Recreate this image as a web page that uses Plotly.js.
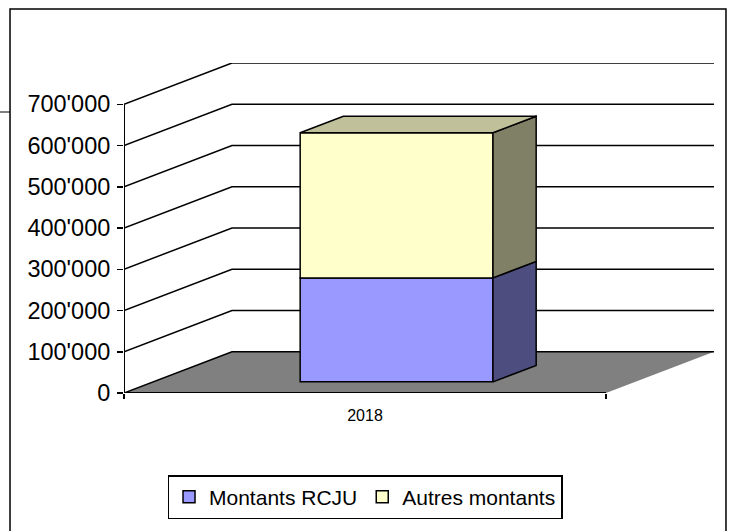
<!DOCTYPE html>
<html>
<head>
<meta charset="utf-8">
<script src="https://cdn.plot.ly/plotly-3.0.1.min.js"></script>
<style>
  body { margin: 0; background: #fff; }
  #plot { width: 729px; height: 531px; }
</style>
</head>
<body>
<div id="plot"></div>
<script>
var years = ['2018'];
var montantsRcju = [252000];
var autresMontants = [352000];
var seriesNames = ['Montants RCJU', 'Autres montants'];
var yTicks = [0, 100000, 200000, 300000, 400000, 500000, 600000, 700000];

// fake 3D look: depth offset of the back wall, in axis units
var DX = 0.224, DY = 100000;
var T0 = 0.27, T1 = 0.67, BW = 0.4;

var catX = 0.5;
var frontX = catX + T0 * DX + 0.005;
var lift = T0 * DY;
var dx = (T1 - T0) * DX, dy = (T1 - T0) * DY;
var xl = frontX - BW / 2, xr = frontX + BW / 2;

var colors = {
  rcju: {front: '#9999FF', side: '#4D4D80'},
  autres: {front: '#FFFFCC', side: '#808066', top: '#C0C09A'}
};
var edge = {color: '#000', width: 1.5};

function poly(xs, ys, fill) {
  return {
    x: xs, y: ys, type: 'scatter', mode: 'lines', fill: 'toself',
    fillcolor: fill, line: edge, showlegend: false, hoverinfo: 'skip'
  };
}

var base2 = montantsRcju[0];
var total = montantsRcju[0] + autresMontants[0];

var rcjuFront = {
  x: [frontX], y: montantsRcju, base: [lift], width: [BW], name: seriesNames[0],
  type: 'bar', marker: {color: colors.rcju.front, line: edge}, hoverinfo: 'skip'
};
var autresFront = {
  x: [frontX], y: autresMontants, base: [lift + base2], width: [BW], name: seriesNames[1],
  type: 'bar', marker: {color: colors.autres.front, line: edge}, hoverinfo: 'skip'
};

var rcjuSide = poly([xr, xr + dx, xr + dx, xr, xr],
  [lift, lift + dy, lift + base2 + dy, lift + base2, lift], colors.rcju.side);
var autresSide = poly([xr, xr + dx, xr + dx, xr, xr],
  [lift + base2, lift + base2 + dy, lift + total + dy, lift + total, lift + base2], colors.autres.side);
var autresTop = poly([xl, xr, xr + dx, xl + dx, xl],
  [lift + total, lift + total, lift + total + dy, lift + total + dy, lift + total], colors.autres.top);

var data = [rcjuFront, autresFront, rcjuSide, autresSide, autresTop];

// floor, walls and grid as shapes under the bars
var shapes = [{
  type: 'path', xref: 'x', yref: 'y', layer: 'below',
  path: 'M0,0 L1,0 L' + (1 + DX) + ',' + DY + ' L' + DX + ',' + DY + ' Z',
  fillcolor: '#808080', line: {width: 0}
}];
yTicks.forEach(function (v) {
  shapes.push({
    type: 'path', xref: 'x', yref: 'y', layer: 'below',
    path: 'M0,' + v + ' L' + DX + ',' + (v + DY) + ' L' + (1 + DX) + ',' + (v + DY),
    line: {color: '#000', width: 1.5}
  });
});
shapes.push({type: 'line', xref: 'x', yref: 'y', layer: 'below', x0: 0, x1: 1, y0: 0, y1: 0,
  line: {color: '#000', width: 2}});
shapes.push({type: 'line', xref: 'x', yref: 'y', layer: 'below', x0: 0, x1: 0, y0: 0,
  y1: yTicks[yTicks.length - 1], line: {color: '#000', width: 2}});
// outer chart frame
shapes.push({type: 'rect', xref: 'paper', yref: 'paper', x0: -0.1932, x1: 1.0203, y0: -0.5, y1: 1.1636,
  line: {color: '#000', width: 1.5}});
shapes.push({type: 'line', xref: 'paper', yref: 'paper', x0: -0.215, x1: -0.1932, y0: 0.8515, y1: 0.8515,
  line: {color: '#000', width: 1}});

var layout = {
  width: 729, height: 531,
  margin: {l: 124, r: 15, t: 63, b: 138},
  paper_bgcolor: '#fff', plot_bgcolor: '#fff',
  font: {family: 'Liberation Sans, Arial, sans-serif', color: '#000'},
  separators: ".'",
  barmode: 'overlay',
  showlegend: true,
  hovermode: false,
  xaxis: {
    range: [0, 1 + DX], fixedrange: true,
    tickmode: 'array', tickvals: [catX], ticktext: years, ticks: '',
    tickfont: {size: 16}, ticklabelstandoff: 11,
    showgrid: false, zeroline: false, showline: false,
    minor: {tickmode: 'array', tickvals: [0, 1], ticks: 'outside', ticklen: 5,
      tickwidth: 1.5, tickcolor: '#000', showgrid: false}
  },
  yaxis: {
    range: [0, 800000], fixedrange: true,
    tickmode: 'array', tickvals: yTicks, tickformat: ',',
    ticks: 'outside', ticklen: 6, tickwidth: 1.5, tickcolor: '#000',
    tickfont: {size: 23.5}, ticklabelstandoff: 2,
    showgrid: false, zeroline: false, showline: false
  },
  legend: {
    orientation: 'h', x: 0.4085, xanchor: 'center', y: -0.2485, yanchor: 'top',
    bordercolor: '#000', borderwidth: 1.5, bgcolor: '#fff',
    font: {size: 21}, itemwidth: 30, traceorder: 'normal'
  },
  shapes: shapes
};

Plotly.newPlot('plot', data, layout, {displayModeBar: false, staticPlot: true});
</script>
</body>
</html>
